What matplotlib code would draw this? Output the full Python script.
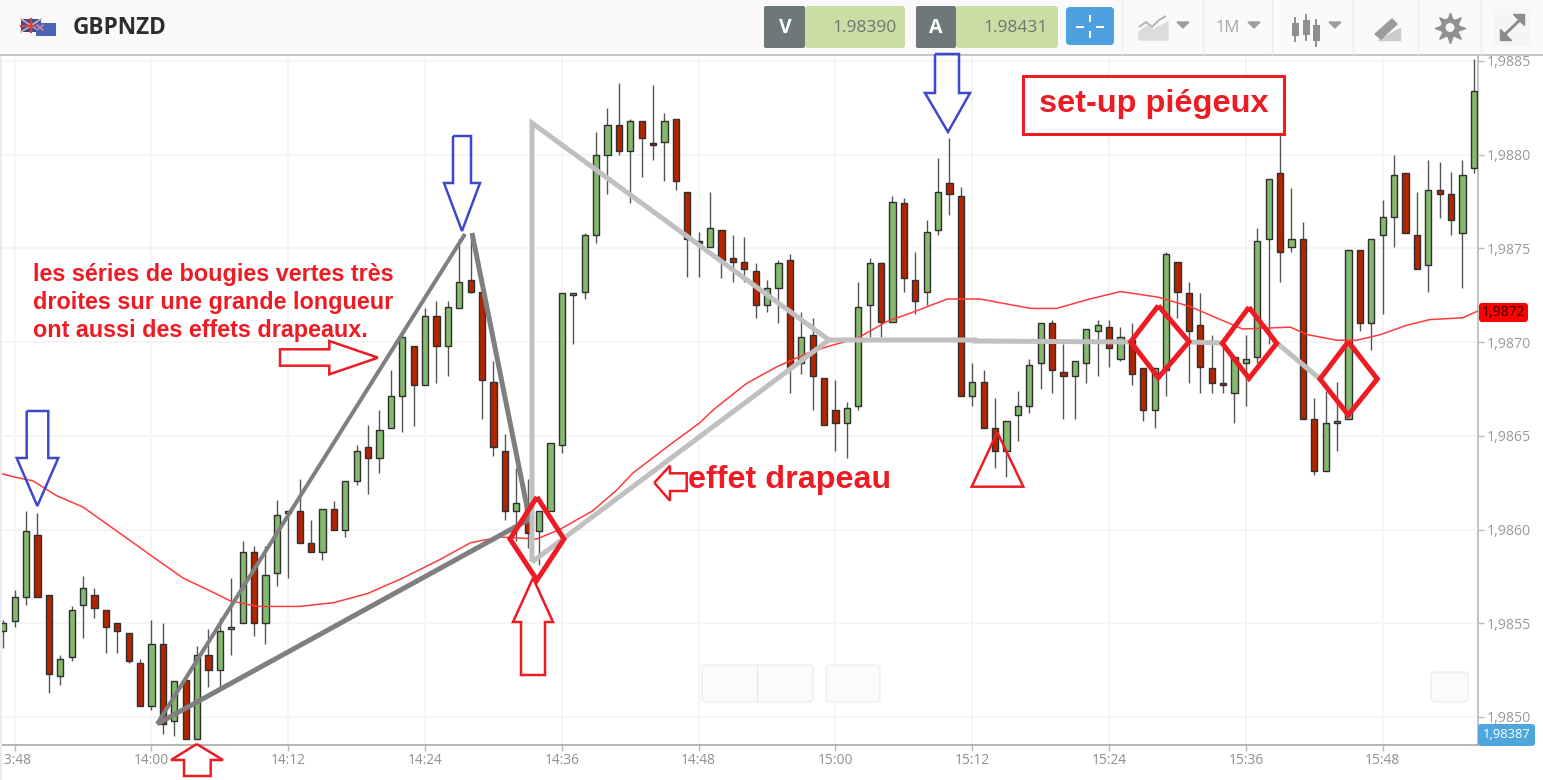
import matplotlib
matplotlib.use('Agg')
import matplotlib.pyplot as plt
import numpy as np
from matplotlib.patches import Rectangle, FancyBboxPatch, Circle

# prices are stored as points above 1.98000 (1 point = 0.00001)
BASE = 1.98
minutes = np.arange(-13, 117)  # minutes from 14:00, one candle each

opens = [546,551,564,597,565,522,532,560,565,557,
         550,545,529,506,539,498,520,488,533,525,
         547,550,588,550,577,609,610,593,588,611,
         600,626,644,638,654,671,698,677,714,698,
         718,733,727,679,642,610,614,599,610,645,
         725,727,757,800,816,802,818,806,807,819,
         780,754,751,760,745,743,738,720,729,744,
         689,704,681,664,657,666,720,742,711,774,
         733,727,760,785,778,671,679,654,642,661,
         666,689,710,684,682,689,706,708,691,701,
         686,664,685,743,726,709,686,678,673,689,
         692,755,790,751,755,659,631,657,659,749,
         710,757,767,790,757,741,781,779,758,793]
closes = [550,564,599,564,523,531,557,569,558,548,
          546,530,506,539,496,519,488,533,525,546,
          548,588,550,576,608,610,593,588,611,600,
          626,642,638,653,671,703,677,714,698,719,
          732,727,680,644,610,614,598,610,646,726,
          726,757,800,816,802,818,809,805,818,786,
          755,753,761,744,743,739,720,729,742,687,
          703,682,656,657,665,719,742,711,775,734,
          722,759,780,779,671,679,654,642,658,666,
          688,710,685,682,690,707,709,697,703,683,
          664,686,747,727,706,687,678,677,692,691,
          754,787,748,755,659,631,657,658,749,710,
          755,767,789,758,739,781,779,765,789,834]
highs = [552,568,610,609,565,533,559,575,569,557,
         550,545,531,552,550,519,520,538,547,553,
         574,594,591,591,616,610,627,605,611,615,
         626,645,656,664,685,705,698,718,722,722,
         755,756,727,690,651,633,627,610,646,726,
         726,758,812,825,838,819,818,837,822,819,
         780,759,780,760,757,756,742,733,744,747,
         716,713,681,680,668,732,745,743,778,777,
         748,765,798,809,783,689,685,670,658,674,
         691,710,712,699,690,707,712,712,708,710,
         686,686,748,743,732,726,704,701,692,704,
         761,787,811,782,764,670,674,679,749,749,
         755,776,800,790,780,797,796,791,797,851]
lows = [537,548,560,564,513,517,530,542,553,534,
        534,529,506,504,491,490,488,488,516,516,
        533,550,543,539,570,574,593,588,584,600,
        596,624,619,630,654,652,655,677,678,682,
        718,726,659,639,605,594,590,581,610,641,
        699,723,753,779,800,774,788,797,786,781,
        735,735,751,734,732,732,713,716,710,673,
        683,664,656,642,638,664,703,703,711,727,
        715,720,757,768,671,666,654,633,628,647,
        662,675,673,659,659,678,682,687,690,677,
        658,654,671,713,678,673,673,673,657,666,
        689,699,732,748,659,629,631,642,659,706,
        696,715,751,758,739,727,766,757,729,790]

ma_minutes = [-13.3,-12,-10.4,-8.3,-6,-3,0,2.8,4.9,6.9,9.3,13,16,19,22,25.3,28,30.6,33.8,
              35.8,38.7,40.8,42.2,45.2,48.1,49.3,52.2,54.9,57.5,59.5,61.9,64.5,66.8,69.8,
              72.7,77.1,79.4,82.3,85,88.3,91.1,95.7,99.9,101.4,104,105.7,107.8,110.1,112.1,115,116.5]
ma_values = [630,628,626,618,612,599,586,574,568,562,559,559,561,566,574,584,593,596,595,
             600,610,621,630,644,657,664,678,687,694,698,702,711,716,723,
             723,718,718,723,727,724,719,707,708,704,701,701,704,709,712,713,717]

y_ticks = [1.9850, 1.9855, 1.9860, 1.9865, 1.9870, 1.9875, 1.9880, 1.9885]
y_labels = ['1,9850', '1,9855', '1,9860', '1,9865', '1,9870', '1,9875', '1,9880', '1,9885']
x_ticks = [-12, 0, 12, 24, 36, 48, 60, 72, 84, 96, 108]
x_labels = ['13:48', '14:00', '14:12', '14:24', '14:36', '14:48', '15:00', '15:12', '15:24', '15:36', '15:48']

RED = '#ed1c24'
BLUE = '#3f48cc'
DARK_GREY = '#7f7f7f'
LIGHT_GREY = '#c0c0c0'
UP = '#84b96e'
DOWN = '#b32500'
W, H = 1543, 780

plt.rcParams['font.family'] = ['Open Sans', 'DejaVu Sans']

o = BASE + np.array(opens) / 1e5
c = BASE + np.array(closes) / 1e5
hi = BASE + np.array(highs) / 1e5
lo = BASE + np.array(lows) / 1e5

fig = plt.figure(figsize=(W / 100, H / 100), dpi=100, facecolor='white')

# price chart, placed so the frame runs x 0-1478, y 55-745 in pixels
ax = fig.add_axes([0, (H - 745) / H, 1478 / W, 690 / H])
ax.set_xlim(-13.289, 116.36)
ax.set_ylim(BASE + 485.06 / 1e5, BASE + 853.2 / 1e5)
ax.grid(True, color='#f5f5f5', lw=1.3)
ax.set_axisbelow(True)
ax.vlines(minutes, lo, hi, color='#555555', lw=1, zorder=2)
colors = [UP if b >= a else DOWN for a, b in zip(o, c)]
ax.bar(minutes, np.abs(c - o), bottom=np.minimum(o, c), width=0.56, color=colors,
       edgecolor='#2f2f2f', linewidth=1, zorder=3)
ax.plot(ma_minutes, BASE + np.array(ma_values) / 1e5, color='#ff3b3b', lw=1.1, zorder=4)

ax.yaxis.tick_right()
ax.set_yticks(y_ticks, y_labels)
ax.set_xticks(x_ticks, x_labels)
ax.tick_params(axis='y', length=4, width=1, color='#bbbbbb', labelcolor='#9a9a9a', labelsize=10.2, pad=2.4)
ax.tick_params(axis='x', length=4, width=1, color='#bbbbbb', labelcolor='#8f8f8f', labelsize=9.9, pad=2)
for side in ['top', 'left']:
    ax.spines[side].set_visible(False)
ax.spines['right'].set_color('#bdbdbd')
ax.spines['right'].set_linewidth(1.3)
ax.spines['bottom'].set_color('#a8a8a8')
ax.spines['bottom'].set_linewidth(1.2)

# overlay in picture pixels for toolbar and hand drawn annotations
ui = fig.add_axes([0, 0, 1, 1], facecolor='none')
ui.set_xlim(0, W)
ui.set_ylim(H, 0)
ui.axis('off')


def poly(points, color, lw, closed=False, z=5):
    pts = list(points) + ([points[0]] if closed else [])
    xs, ys = zip(*pts)
    ui.plot(xs, ys, color=color, lw=lw * 0.72, zorder=z, solid_joinstyle='miter', solid_capstyle='butt')


def box(x0, y0, x1, y1, color, edge='none', lw=0, round_=0, z=2):
    if round_:
        ui.add_patch(FancyBboxPatch((x0 + round_, y0 + round_), x1 - x0 - 2 * round_, y1 - y0 - 2 * round_,
                                    boxstyle=f'round,pad={round_},rounding_size={round_}',
                                    fc=color, ec=edge, lw=lw, zorder=z))
    else:
        ui.add_patch(Rectangle((x0, y0), x1 - x0, y1 - y0, fc=color, ec=edge, lw=lw, zorder=z))


# toolbar
box(0, 0, W, 54, '#fafafa')
ui.plot([0, W], [55, 55], color='#bcbcbc', lw=1.2, zorder=3)
box(0, 0, 2, H, '#ececec', z=1)
box(21, 19, 41, 32, '#3b4f8f', z=3)
ui.plot([21, 41], [19, 32], color='#ddb0b0', lw=1.2, zorder=3)
ui.plot([21, 41], [32, 19], color='#ddb0b0', lw=1.2, zorder=3)
ui.plot([31, 31], [19, 32], color='#d9404a', lw=1.6, zorder=3)
ui.plot([21, 41], [25.5, 25.5], color='#d9404a', lw=1.6, zorder=3)
box(36, 23, 56, 36, '#4a63b5', z=4)
ui.plot([37, 43], [25, 30], color='#e08a9c', lw=1, zorder=4)
ui.plot([37, 43], [30, 25], color='#e08a9c', lw=1, zorder=4)
ui.text(73, 27.5, 'GBPNZD', color='#2d2d2d', fontsize=16.3, fontweight='bold', va='center', zorder=4)

box(805, 6, 905, 48, '#c8dea5', round_=3)
box(764, 6, 805, 48, '#6e7878', round_=2, z=3)
ui.text(785, 28, 'V', color='white', fontsize=14, fontweight='bold', ha='center', va='center', zorder=4)
ui.text(897, 28, '1.98390', color='#6f7572', fontsize=12.5, ha='right', va='center', zorder=4)
box(956, 6, 1058, 48, '#c8dea5', round_=3)
box(916, 6, 956, 48, '#6e7878', round_=2, z=3)
ui.text(936, 28, 'A', color='white', fontsize=14, fontweight='bold', ha='center', va='center', zorder=4)
ui.text(1048, 28, '1.98431', color='#6f7572', fontsize=12.5, ha='right', va='center', zorder=4)
box(1066, 7, 1114, 45, '#4ea1de', round_=4)
for seg in [[(1090, 15), (1090, 22)], [(1090, 31), (1090, 38)], [(1076, 26.5), (1084, 26.5)], [(1096, 26.5), (1104, 26.5)]]:
    poly(seg, 'white', 2, z=4)
for sep in [1122, 1203, 1272, 1353, 1418, 1481]:
    ui.plot([sep, sep], [0, 54], color='#ececec', lw=1, zorder=3)
# indicator icon
ui.fill([1139, 1147, 1153, 1168, 1168, 1139], [32, 26, 30, 22, 40, 40], color='#dcdcdc', zorder=3)
poly([(1139, 27), (1146, 22), (1152, 27), (1159, 20), (1166, 16)], '#b5b5b5', 2, z=4)
ui.text(1216, 27.5, '1M', color='#a7a7a7', fontsize=12, va='center', zorder=4)
for tx in [1183, 1254, 1335]:
    ui.fill([tx - 6, tx + 6, tx], [22, 22, 28], color='#9d9d9d', zorder=4)
# candle icon
for ix, top, bottom in [(1295, 18, 36), (1306, 15, 35), (1316, 20, 41)]:
    ui.plot([ix, ix], [top, bottom + 5], color='#8f8f8f', lw=1.4, zorder=3)
    box(ix - 3.5, top + 5, ix + 3.5, bottom, '#8f8f8f', z=4)
# pencil icon
ui.fill([1375, 1392, 1397, 1381], [34, 19, 24, 39], color='#9c9c9c', zorder=4)
ui.fill([1378, 1400, 1400], [40, 40, 28], color='#cccccc', zorder=3)
# gear icon
ui.plot([1450], [27.5], marker=(8, 1, 0), ms=22, color='#909090', zorder=4, ls='none')
ui.add_patch(Circle((1450, 27.5), 9.5, fc='#909090', ec='none', zorder=4))
ui.add_patch(Circle((1450, 27.5), 4.5, fc='#fafafa', ec='none', zorder=5))
# expand icon
box(1493, 9, 1531, 46, '#f5f5f5', z=3)
poly([(1501, 38), (1523, 17)], '#8c8c8c', 3, z=4)
ui.fill([1513, 1524, 1524], [14, 14, 25], color='#8c8c8c', zorder=4)
ui.fill([1500, 1500, 1511], [29, 40, 40], color='#8c8c8c', zorder=4)

# price tags
box(1479, 303, 1528, 322, '#ff0000', round_=3, z=6)
ui.text(1503.5, 313, '1,9872', color='#3a0000', fontsize=10, ha='center', va='center', zorder=7)
box(1478, 724, 1535, 746, '#4da6dc', round_=3, z=6)
ui.text(1506.5, 735, '1,98387', color='white', fontsize=9.4, ha='center', va='center', zorder=7)

# zoom buttons at the bottom of the chart
box(702, 665, 813, 702, '#fbfbfb', edge='#eeeeee', lw=1, round_=4)
ui.plot([757, 757], [665, 702], color='#e8e8e8', lw=1, zorder=3)
box(826, 665, 880, 702, '#fbfbfb', edge='#eeeeee', lw=1, round_=4)
box(1431, 672, 1468, 702, '#fbfbfb', edge='#eeeeee', lw=1, round_=4)

# hand drawn lines
poly([(157, 724), (465, 234)], DARK_GREY, 4)
poly([(157, 724), (528, 520)], DARK_GREY, 5)
poly([(472, 233), (530, 522)], DARK_GREY, 5)
poly([(532, 562), (532, 123), (829, 340), (532, 562)], LIGHT_GREY, 5)
poly([(829, 340), (975, 340), (975, 341), (1130, 342)], LIGHT_GREY, 5)
poly([(1189, 342), (1222, 343)], LIGHT_GREY, 5)
poly([(1277, 343), (1320, 379)], LIGHT_GREY, 5)

# arrows
poly([(26.7, 411), (48.3, 411), (48.3, 458), (58.3, 458), (37.3, 506), (16.7, 458), (26.7, 458)], BLUE, 2.5, closed=True, z=6)
poly([(453, 136), (471, 136), (471, 183), (480, 183), (462, 231), (444, 183), (453, 183)], BLUE, 2.5, closed=True, z=6)
poly([(935, 54), (959, 54), (959, 93), (970, 93), (948, 132), (925, 93), (935, 93)], BLUE, 2.5, closed=True, z=6)
poly([(196.7, 744), (223, 760), (210.7, 760), (210.7, 776), (184, 776), (184, 760), (171, 760)], RED, 2.5, closed=True, z=6)
poly([(378, 357.7), (329.3, 341), (329.3, 349.3), (280, 349.3), (280, 365.7), (329.3, 365.7), (329.3, 374.3)], RED, 2.5, closed=True, z=6)
poly([(533, 578), (553, 622), (545, 622), (545, 675), (521, 675), (521, 622), (513, 622)], RED, 2.5, closed=True, z=6)
poly([(654.3, 482.7), (670, 465.7), (670, 473.3), (686.7, 473.3), (686.7, 491), (670, 491), (670, 500.7)], RED, 2.5, closed=True, z=6)
poly([(997.3, 432.3), (1023.3, 486.7), (971.7, 486.7)], RED, 2.5, closed=True, z=6)

# diamonds
for top, right, bottom, left in [((537, 497), (564, 539), (537, 580), (510, 539)),
                                 ((1158.3, 305.7), (1189, 341.7), (1158.3, 377.7), (1130.7, 341.7)),
                                 ((1249, 307.3), (1276.7, 343.3), (1249, 378.3), (1222.3, 343.3)),
                                 ((1348.3, 341.7), (1377.3, 379), (1348.3, 415), (1320, 379))]:
    poly([top, right, bottom, left], RED, 5, closed=True, z=7)

# notes
note_font = ['Liberation Sans', 'DejaVu Sans']
for yy, line in [(274, 'les séries de bougies vertes très'),
                 (302, 'droites sur une grande longueur'),
                 (330, 'ont aussi des effets drapeaux.')]:
    ui.text(33, yy, line, color=RED, fontsize=16.8, fontweight='bold', family=note_font, va='center', zorder=8)
ui.text(688, 480, 'effet drapeau', color=RED, fontsize=23.2, fontweight='bold', family=note_font, va='center', zorder=8)
box(1023, 76, 1284, 134, 'white', edge=RED, lw=2.2, z=6)
ui.text(1039, 104, 'set-up piégeux', color=RED, fontsize=23.4, fontweight='bold', family=note_font, va='center', zorder=8)

fig.savefig('out.png', dpi=100)
